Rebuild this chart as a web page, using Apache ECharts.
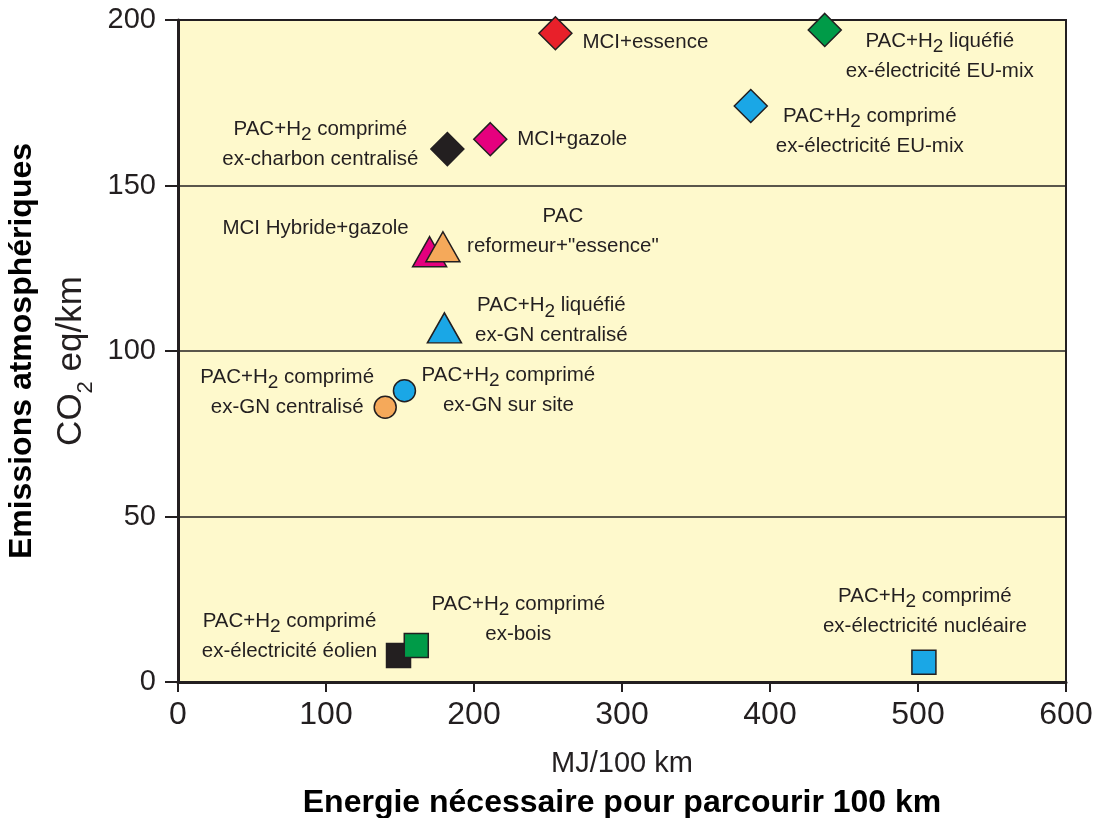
<!DOCTYPE html>
<html><head><meta charset="utf-8">
<script src="https://cdn.jsdelivr.net/npm/echarts@6/dist/echarts.min.js"></script>
<style>html,body{margin:0;padding:0;background:#fff}#c{width:1100px;height:818px}</style>
</head><body><div id="c"></div>
<script>
// ---- data ----
const labels = [
  'MCI+essence',
  'PAC+H{s|2} liquéfié\nex-électricité EU-mix',
  'PAC+H{s|2} comprimé\nex-électricité EU-mix',
  'PAC+H{s|2} comprimé\nex-charbon centralisé',
  'MCI+gazole',
  'MCI Hybride+gazole',
  'PAC\nreformeur+"essence"',
  'PAC+H{s|2} liquéfié\nex-GN centralisé',
  'PAC+H{s|2} comprimé\nex-GN sur site',
  'PAC+H{s|2} comprimé\nex-GN centralisé',
  'PAC+H{s|2} comprimé\nex-électricité éolien',
  'PAC+H{s|2} comprimé\nex-bois',
  'PAC+H{s|2} comprimé\nex-électricité nucléaire'
];
const energy    = [255, 437, 387, 182, 211, 170, 179, 180, 153, 140, 149, 161, 504];
const emissions = [196, 197, 174, 161, 164, 130, 131.5, 107, 88, 83, 8, 11, 6];
const symbols = ['diamond','diamond','diamond','diamond','diamond','triangle','triangle','triangle','circle','circle','rect','rect','rect'];
const colors  = ['#e8202a','#009b48','#1aa7e6','#231f20','#e5007e','#e5007e','#f5a95a','#1aa7e6','#1aa7e6','#f5a95a','#231f20','#009b48','#1aa7e6'];
const xTicks = [0, 100, 200, 300, 400, 500, 600];
const yTicks = [0, 50, 100, 150, 200];

// ---- styling (label placement, sizes) ----
const sizeBySymbol = {diamond: [33, 33], triangle: [34, 30], circle: [22, 22], rect: [24, 24]};
const labelLayout = [
  {o: [27, 9], a: 'left'},
  {o: [115, 26], a: 'center'},
  {o: [119, 25], a: 'center'},
  {o: [-127, -5], a: 'center'},
  {o: [27, 0], a: 'left'},
  {o: [-114, -23], a: 'center'},
  {o: [120, -15], a: 'center'},
  {o: [107, -7], a: 'center'},
  {o: [104, 0], a: 'center'},
  {o: [-98, -15], a: 'center'},
  {o: [-109, -19], a: 'center'},
  {o: [102, -26], a: 'center'},
  {o: [1, -51], a: 'center'}
];
const FONT = "'Liberation Sans', Arial, sans-serif";
const INK = '#231f20';

const data = labels.map((t, i) => ({
  value: [energy[i], emissions[i]],
  symbol: symbols[i],
  symbolSize: sizeBySymbol[symbols[i]],
  itemStyle: {color: colors[i], borderColor: INK, borderWidth: 1.5, opacity: 1},
  label: {
    show: true, formatter: t, position: 'inside',
    offset: labelLayout[i].o, align: labelLayout[i].a, verticalAlign: 'middle',
    color: INK, fontFamily: FONT, fontSize: 20.5, lineHeight: 30,
    rich: {s: {fontFamily: FONT, fontSize: 19, lineHeight: 20, verticalAlign: 'bottom', color: INK}}
  }
}));

const chart = echarts.init(document.getElementById('c'), null, {renderer: 'canvas'});
chart.setOption({
  animation: false,
  grid: {left: 178, right: 34, top: 20, bottom: 136, containLabel: false, outerBoundsMode: 'none',
         show: true, backgroundColor: '#fef9cc', borderColor: INK, borderWidth: 2},
  xAxis: {
    type: 'value', min: xTicks[0], max: xTicks[xTicks.length - 1], interval: 100,
    axisLine: {show: true, onZero: false, lineStyle: {color: INK, width: 3}},
    axisTick: {show: true, inside: false, length: 10, lineStyle: {color: INK, width: 2}},
    splitLine: {show: false},
    axisLabel: {color: INK, fontFamily: FONT, fontSize: 32, margin: 17},
    name: '{n|MJ/100 km}\n{b|Energie nécessaire pour parcourir 100 km}',
    nameLocation: 'middle', nameGap: 61,
    nameTextStyle: {
      verticalAlign: 'top',
      rich: {
        n: {fontFamily: FONT, fontSize: 29, color: INK, lineHeight: 42, align: 'center'},
        b: {fontFamily: FONT, fontSize: 32, fontWeight: 'bold', color: '#000', lineHeight: 36, align: 'center'}
      }
    }
  },
  yAxis: {
    type: 'value', min: yTicks[0], max: yTicks[yTicks.length - 1], interval: 50,
    axisLine: {show: true, lineStyle: {color: INK, width: 3}},
    axisTick: {show: true, inside: false, length: 13, lineStyle: {color: INK, width: 2}},
    splitLine: {show: true, lineStyle: {color: INK, width: 1.5}},
    axisLabel: {color: INK, fontFamily: FONT, fontSize: 29, margin: 22},
    name: '{b|Emissions atmosphériques}\n{n|CO}{s|2}{e| eq/km}',
    nameLocation: 'middle', nameGap: 68, nameRotate: 90,
    nameTextStyle: {
      rich: {
        b: {fontFamily: FONT, fontSize: 32, fontWeight: 'bold', color: '#000', lineHeight: 50, align: 'center'},
        n: {fontFamily: FONT, fontSize: 35, color: INK, lineHeight: 50},
        s: {fontFamily: FONT, fontSize: 22, color: INK, lineHeight: 30, verticalAlign: 'bottom'},
        e: {fontFamily: FONT, fontSize: 35, color: INK, lineHeight: 50, padding: [0, 20, 0, 0]}
      }
    }
  },
  series: [{type: 'scatter', data: data, z: 5}]
});
</script></body></html>
